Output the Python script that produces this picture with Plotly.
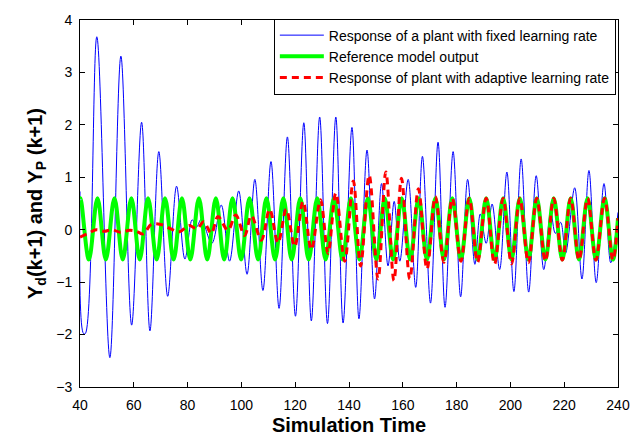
import plotly.graph_objects as go

# ---- Data (extrema of each curve) ----
fixed_t = [40.0, 41.3, 42.0, 46.25, 51.1, 55.2, 59.2, 62.9, 66.0, 69.3, 72.6, 75.9, 79.0,
           81.7, 83.3, 85.1, 89.0, 92.5, 95.6, 99.0, 102.1, 105.0, 108.0, 111.0, 114.0,
           117.1, 120.1, 123.2, 126.0, 129.1, 132.0, 135.1, 137.8, 141.1, 143.7, 146.7,
           149.5, 152.1, 154.5, 156.8, 158.9, 162.0, 164.8, 167.3, 170.3, 173.1, 175.7,
           178.7, 181.5, 184.1, 186.8, 188.8, 191.0, 193.2, 196.0, 198.7, 201.3, 204.0,
           206.8, 209.6, 212.4, 215.0, 216.7, 218.7, 220.5, 223.9, 226.6, 229.2, 231.9,
           234.8, 237.3, 240.0]
fixed_v = [0.73, -1.98, -1.98, 3.68, -2.44, 3.31, -1.82, 2.05, -1.93, 1.49, -1.27, 0.83, -0.56,
           0.19, 0.05, 0.20, -0.26, 0.47, -0.60, 0.74, -0.85, 0.96, -1.16, 1.30, -1.50,
           1.77, -1.65, 2.04, -1.74, 2.15, -1.79, 2.15, -1.78, 1.95, -1.70, 1.52,
           -1.32, 0.88, -0.69, 0.54, -0.60, 0.96, -1.10, 1.40, -1.40, 1.67, -1.48,
           1.49, -1.28, 0.96, -0.66, 0.30, -0.26, 0.49, -0.76, 1.10, -1.18, 1.35,
           -1.19, 1.03, -0.76, 0.33, -0.07, 0.14, -0.45, 0.80, -0.94, 1.13, -1.01,
           0.88, -0.63, 0.33]

ref_t = [40.0, 40.2, 43.3, 46.5, 49.6, 52.8, 55.9, 59.1, 62.2, 65.3, 68.5, 71.6, 74.8, 77.9,
         81.0, 84.2, 87.3, 90.5, 93.6, 96.7, 99.9, 103.0, 106.2, 109.3, 112.5, 115.6,
         118.7, 121.9, 125.0, 128.2, 131.3, 134.4, 137.6, 140.7, 143.9, 147.0, 150.2,
         153.3, 156.4, 159.6, 162.7, 165.9, 169.0, 172.1, 175.3, 178.4, 181.6, 184.7,
         187.8, 191.0, 194.1, 197.3, 200.4, 203.5, 206.7, 209.8, 213.0, 216.1, 219.3,
         222.4, 225.5, 228.7, 231.8, 235.0, 238.1, 240.0]
ref_v = [0.59, 0.60, -0.57, 0.60, -0.57, 0.60, -0.57, 0.60, -0.57, 0.60, -0.57, 0.60, -0.57, 0.60,
         -0.57, 0.60, -0.57, 0.60, -0.57, 0.60, -0.57, 0.60, -0.57, 0.60, -0.57, 0.60,
         -0.57, 0.60, -0.57, 0.60, -0.57, 0.60, -0.57, 0.60, -0.57, 0.60, -0.57,
         0.60, -0.57, 0.60, -0.57, 0.60, -0.57, 0.60, -0.57, 0.60, -0.57, 0.60,
         -0.57, 0.60, -0.57, 0.60, -0.57, 0.60, -0.57, 0.60, -0.57, 0.60, -0.57,
         0.60, -0.57, 0.60, -0.57, 0.60, -0.57, 0.22]

adapt_t = [40.0, 43.5, 46.0, 49.0, 52.0, 55.0, 58.5, 61.0, 63.5, 66.5, 70.0, 74.0, 77.0,
           80.5, 83.5, 86.0, 88.8, 91.3, 95.0, 97.9, 101.2, 103.7, 107.4, 110.5, 113.6,
           116.7, 119.8, 122.9, 126.0, 129.4, 132.2, 135.1, 138.4, 141.6, 144.3, 147.5,
           150.8, 153.7, 156.7, 159.5, 162.6, 165.8, 169.0, 172.1, 175.3, 178.4, 181.6,
           184.7, 187.8, 191.0, 194.1, 197.3, 200.4, 203.5, 206.7, 209.8, 213.0, 216.1,
           219.3, 222.4, 225.5, 228.7, 231.8, 235.0, 238.1, 240.0]
adapt_v = [-0.14, -0.06, 0.0, -0.03, 0.0, -0.05, -0.01, -0.03, -0.08, 0.10, 0.10, 0.01, -0.04,
           0.08, 0.02, 0.15, -0.07, 0.25, -0.01, 0.28, -0.11, 0.27, -0.20, 0.39, -0.25,
           0.39, -0.32, 0.54, -0.38, 0.57, -0.45, 0.70, -0.60, 0.93, -0.69, 1.04,
           -0.94, 1.10, -0.97, 0.98, -0.94, 0.78, -0.75, 0.63, -0.62, 0.60, -0.60,
           0.60, -0.62, 0.60, -0.66, 0.60, -0.65, 0.60, -0.63, 0.60, -0.60, 0.60,
           -0.58, 0.60, -0.58, 0.60, -0.58, 0.60, -0.58, 0.22]

x_ticks = [40, 60, 80, 100, 120, 140, 160, 180, 200, 220, 240]
y_ticks = [-3, -2, -1, 0, 1, 2, 3, 4]

fig = go.Figure()
fig.add_trace(go.Scatter(x=fixed_t, y=fixed_v, mode="lines",
                         line=dict(color="#0000FF", width=1, shape="spline"),
                         name="Response of a plant with fixed learning rate"))
fig.add_trace(go.Scatter(x=ref_t, y=ref_v, mode="lines",
                         line=dict(color="#00FF00", width=4, shape="spline"),
                         name="Reference model output"))
fig.add_trace(go.Scatter(x=adapt_t, y=adapt_v, mode="lines",
                         line=dict(color="#FF0000", width=3, shape="spline", dash="7px,5px"),
                         name="Response of plant with adaptive learning rate"))

axis_common = dict(showline=True, linecolor="black", linewidth=1, mirror="ticks",
                   ticks="inside", ticklen=5, tickcolor="black", showgrid=False,
                   zeroline=False, tickfont=dict(family="Liberation Sans, Arial", size=14, color="black"))

fig.update_layout(
    width=644, height=445,
    margin=dict(l=80, r=26, t=14, b=54),
    plot_bgcolor="white", paper_bgcolor="white",
    font=dict(family="Liberation Sans, Arial", color="black"),
    xaxis=dict(range=[40, 240], tickvals=x_ticks, ticklabelstandoff=5, **axis_common,
               title=dict(text="<b>Simulation Time</b>", font=dict(size=20), standoff=6)),
    yaxis=dict(range=[-3, 4], tickvals=y_ticks, ticklabelstandoff=4, **axis_common,
               title=dict(text="<b>Y<sub>d</sub>(k+1) and Y<sub>P</sub> (k+1)</b>", font=dict(size=20), standoff=8)),
    legend=dict(x=0.996, y=1.004, xanchor="right", yanchor="top",
                bordercolor="black", borderwidth=1, bgcolor="white",
                font=dict(size=14), tracegroupgap=0, itemwidth=44),
    showlegend=True,
)

fig.write_html("out.html", config={"displayModeBar": False},
               post_script="document.body.style.margin='0';document.body.style.overflow='hidden';")
